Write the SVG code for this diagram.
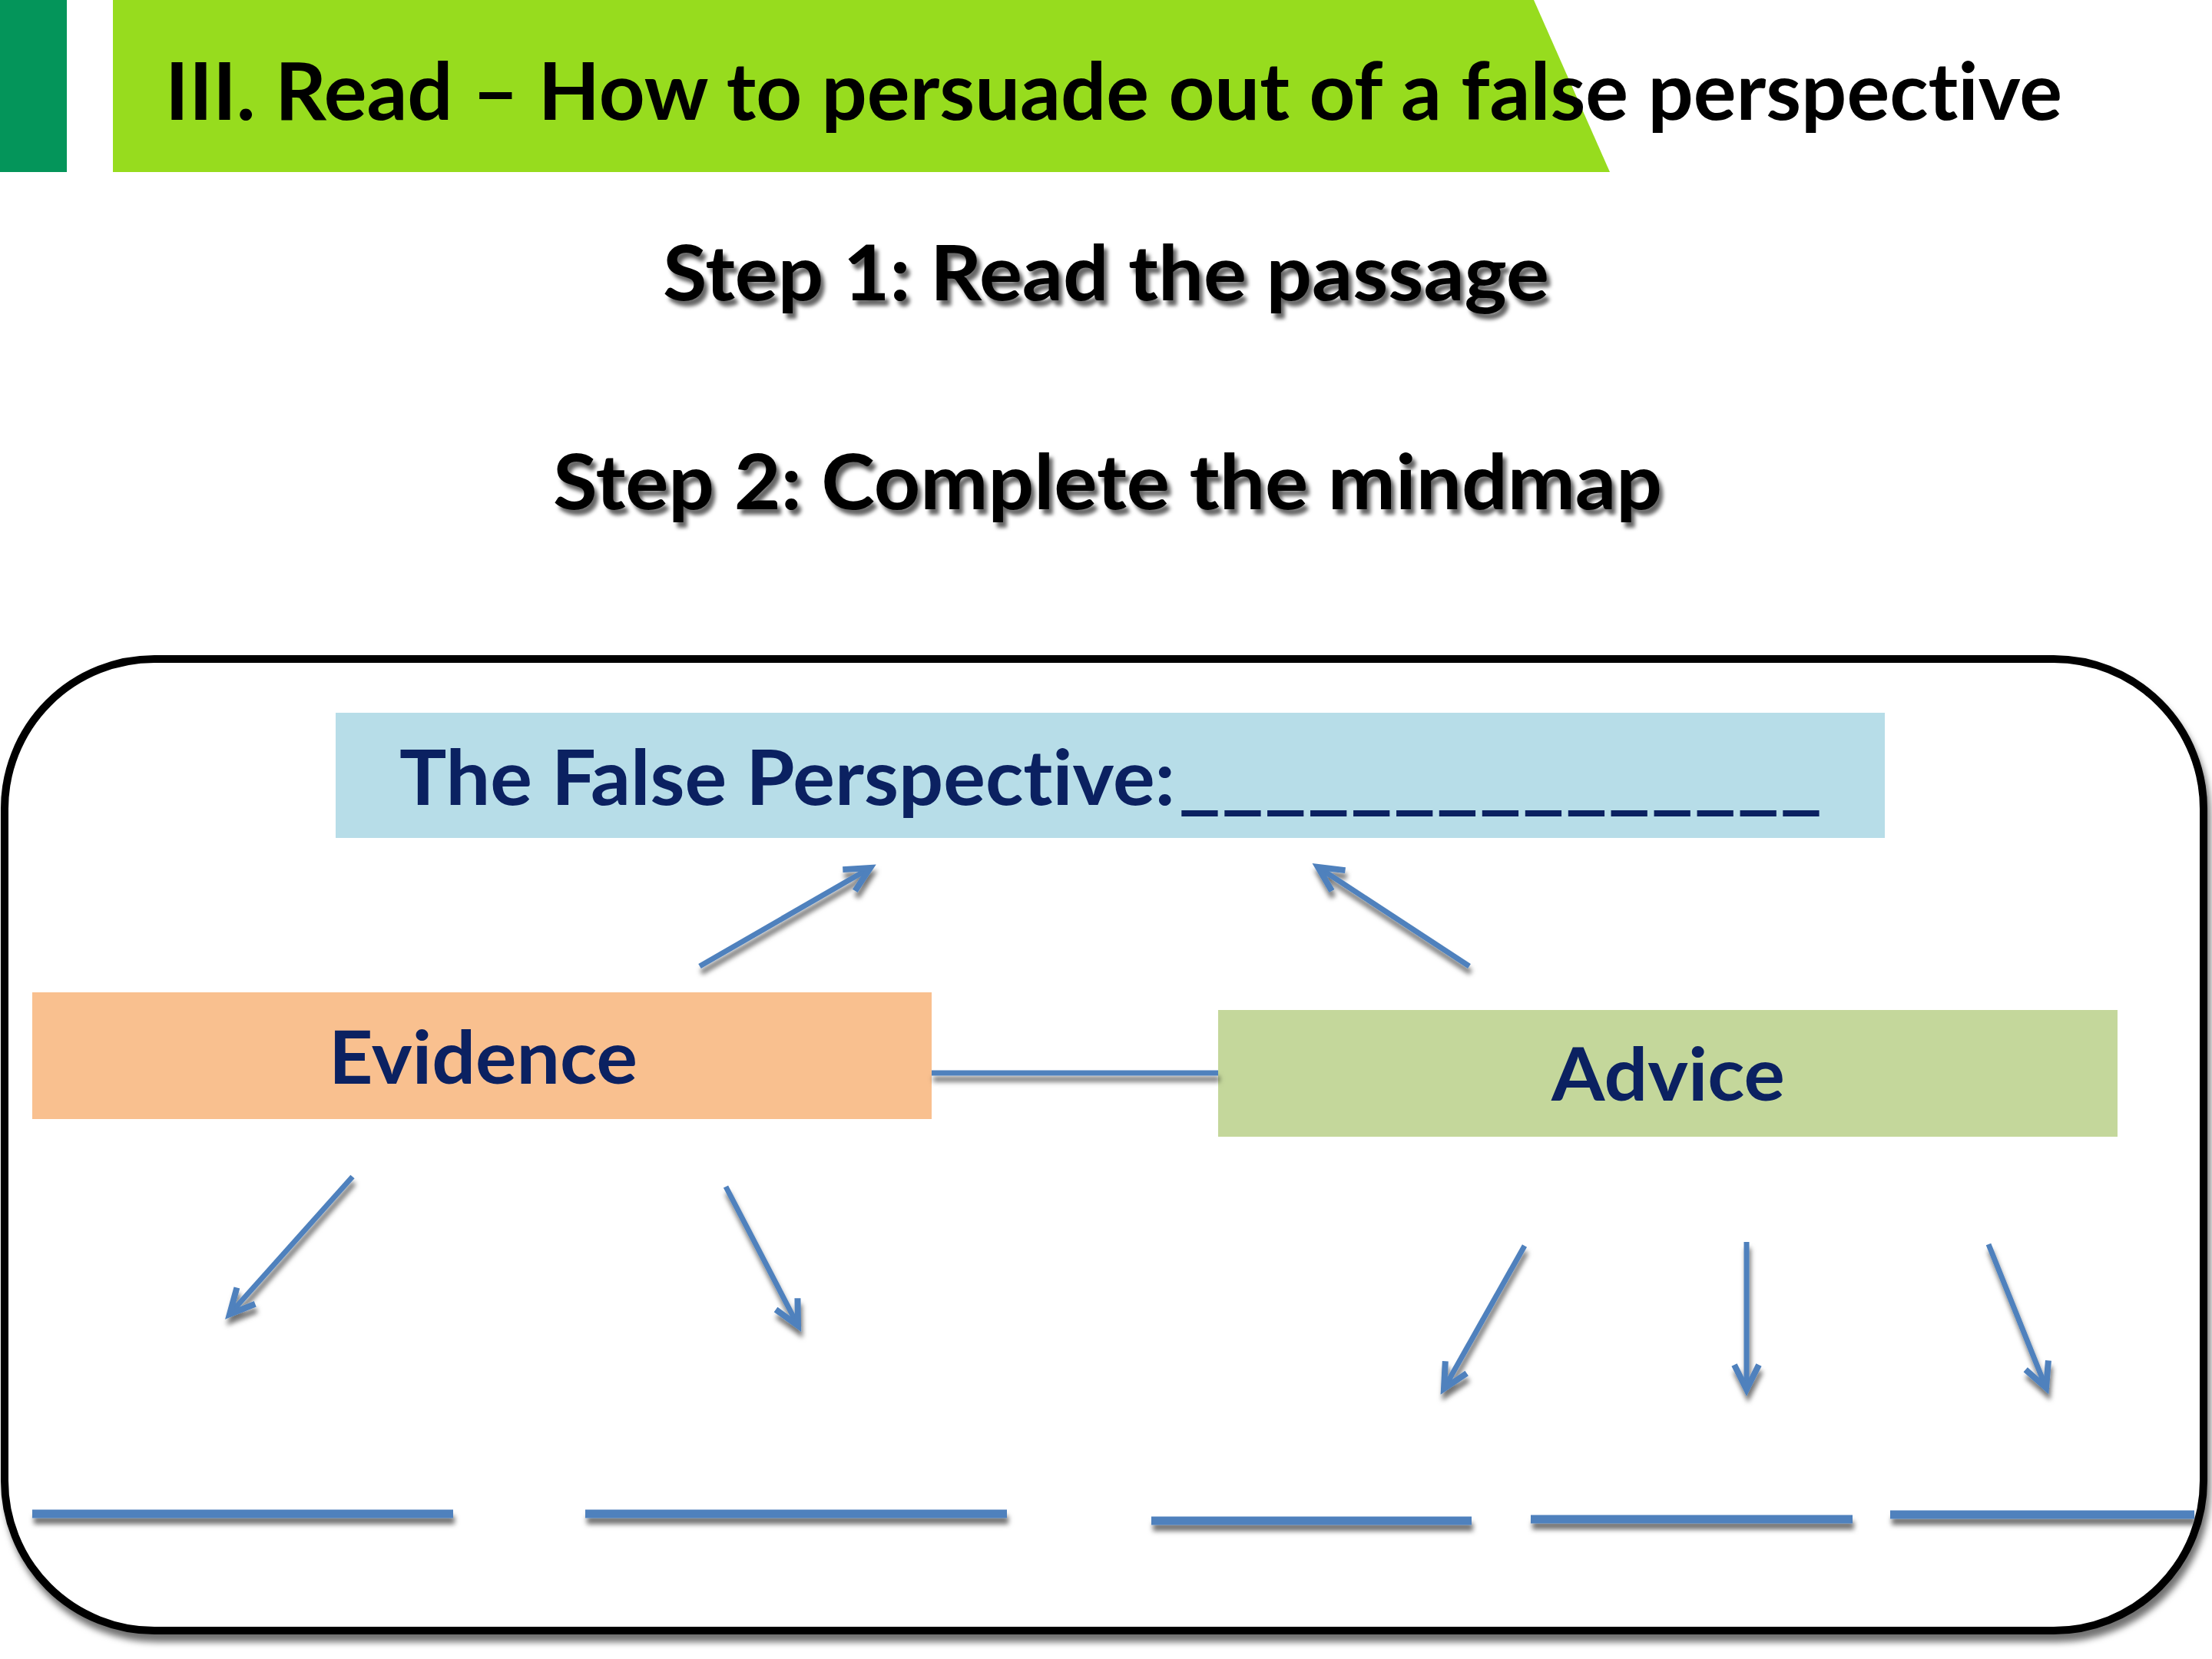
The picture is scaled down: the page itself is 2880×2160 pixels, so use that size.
<svg xmlns="http://www.w3.org/2000/svg" width="2880" height="2160" viewBox="0 0 2880 2160">
<defs>
<style>
.t{font-family:Lato,"Open Sans","Liberation Sans",sans-serif;font-weight:700;font-variant-ligatures:none;font-feature-settings:"liga" 0,"clig" 0}
.navy{fill:#0B2161}
.blk{fill:#000}
.conn{stroke:#4F81BD;stroke-width:7;fill:none}
.blank{stroke:#4F81BD;stroke-width:11;fill:none}
</style>
<filter id="sh" filterUnits="userSpaceOnUse" x="0" y="0" width="2880" height="2160">
<feDropShadow dx="2" dy="8" stdDeviation="3" flood-color="#000" flood-opacity="0.55"/>
</filter>
<filter id="shBox" filterUnits="userSpaceOnUse" x="0" y="0" width="2880" height="2160">
<feDropShadow dx="4" dy="10" stdDeviation="4" flood-color="#000" flood-opacity="0.55"/>
</filter>
<filter id="shText" filterUnits="userSpaceOnUse" x="0" y="0" width="2880" height="2160">
<feDropShadow dx="5" dy="7" stdDeviation="2.5" flood-color="#000" flood-opacity="0.6"/>
</filter>
<marker id="ah" markerUnits="userSpaceOnUse" viewBox="-44 -24 60 48" refX="0" refY="0" markerWidth="60" markerHeight="48" orient="auto">
<path d="M-32,-16 L0,0 L-32,16" fill="none" stroke="#4F81BD" stroke-width="8" stroke-linejoin="miter"/>
</marker>
</defs>
<rect width="2880" height="2160" fill="#fff"/>

<g id="header">
<rect x="0" y="0" width="87" height="224" fill="#04955A"/>
<polygon points="147,0 1997,0 2096,224 147,224" fill="#97DC1E"/>
<text class="t blk" x="215" y="156" font-size="104" textLength="2470" lengthAdjust="spacingAndGlyphs">III. Read – How to persuade out of a false perspective</text>
</g>

<g id="step1" filter="url(#shText)">
<text class="t blk" x="863" y="391" font-size="100" textLength="1154" lengthAdjust="spacingAndGlyphs">Step 1: Read the passage</text>
</g>
<g id="step2" filter="url(#shText)">
<text class="t blk" x="720" y="663" font-size="100" textLength="1444" lengthAdjust="spacingAndGlyphs">Step 2: Complete the mindmap</text>
</g>

<g id="frame">
<rect x="6" y="858" width="2863" height="1265" rx="195" ry="195" fill="#fff" stroke="#000" stroke-width="10" filter="url(#shBox)"/>
</g>

<g id="perspective">
<rect x="437" y="928" width="2017" height="163" fill="#B7DDE8"/>
<text class="t navy" x="520" y="1048" font-size="100" textLength="1010" lengthAdjust="spacingAndGlyphs">The False Perspective:</text>
<text class="t navy" x="1534" y="1048" font-size="100" font-weight="900" textLength="839" lengthAdjust="spacingAndGlyphs">_______________</text>
</g>

<g id="evidence">
<rect x="42" y="1292" width="1171" height="165" fill="#F9C08F"/>
<text class="t navy" x="428" y="1411" font-size="96" textLength="402" lengthAdjust="spacingAndGlyphs">Evidence</text>
</g>

<g id="advice">
<rect x="1586" y="1315" width="1171" height="165" fill="#C4D79B"/>
<text class="t navy" x="2020" y="1433" font-size="96" textLength="304" lengthAdjust="spacingAndGlyphs">Advice</text>
</g>

<g id="connectors" filter="url(#sh)">
<line class="conn" x1="1213" y1="1397" x2="1586" y2="1397" stroke-width="9"/>
<line class="conn" x1="911" y1="1258" x2="1133" y2="1130" marker-end="url(#ah)"/>
<line class="conn" x1="1913" y1="1258" x2="1716" y2="1129" marker-end="url(#ah)"/>
<line class="conn" x1="459" y1="1532" x2="299" y2="1711" marker-end="url(#ah)"/>
<line class="conn" x1="945" y1="1545" x2="1039" y2="1726" marker-end="url(#ah)"/>
<line class="conn" x1="1985" y1="1622" x2="1880" y2="1808" marker-end="url(#ah)"/>
<line class="conn" x1="2274" y1="1617" x2="2274" y2="1809" marker-end="url(#ah)"/>
<line class="conn" x1="2589" y1="1620" x2="2664" y2="1807" marker-end="url(#ah)"/>
</g>

<g id="blanks" filter="url(#sh)">
<line class="blank" x1="42" y1="1971" x2="590" y2="1971"/>
<line class="blank" x1="762" y1="1971" x2="1311" y2="1971"/>
<line class="blank" x1="1499" y1="1980" x2="1916" y2="1980"/>
<line class="blank" x1="1993" y1="1978" x2="2412" y2="1978"/>
<line class="blank" x1="2461" y1="1972" x2="2857" y2="1972"/>
</g>
</svg>
